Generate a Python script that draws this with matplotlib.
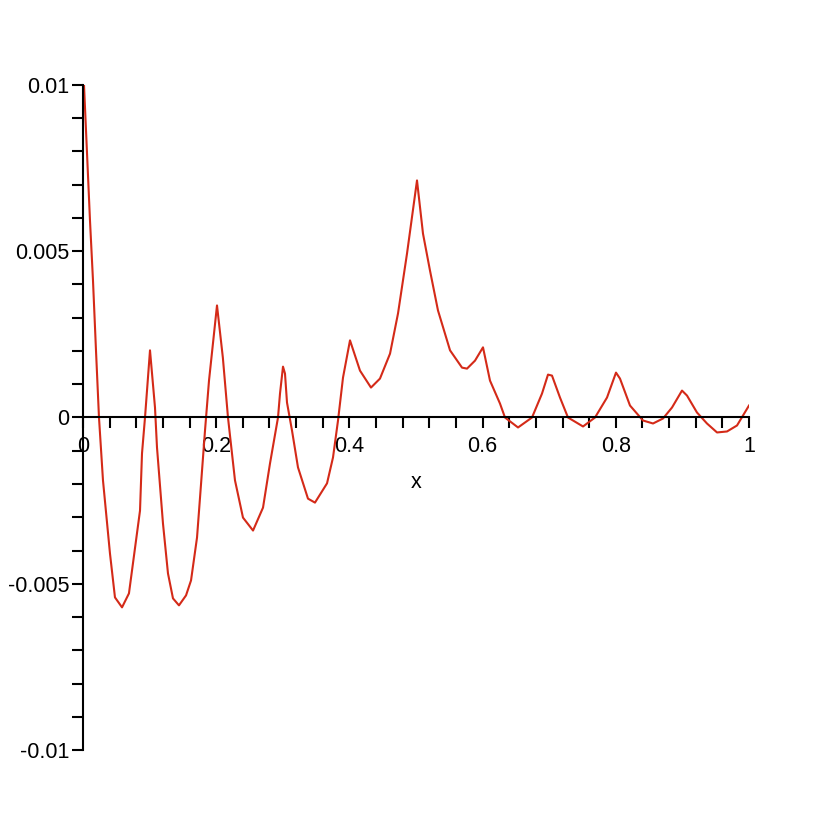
import matplotlib
matplotlib.use("Agg")
import matplotlib.pyplot as plt
import numpy as np

x_vals = [0.0015, 0.0075, 0.0105, 0.015, 0.0195, 0.024, 0.030, 0.0405, 0.048, 0.0586,
          0.069, 0.0736, 0.0856, 0.0886, 0.0931, 0.1006, 0.1081, 0.1111, 0.1201, 0.1276,
          0.1351, 0.1441, 0.1547, 0.1622, 0.1712, 0.1757, 0.1832, 0.1892, 0.2012, 0.210,
          0.2177, 0.2282, 0.2402, 0.2553, 0.2703, 0.2808, 0.2928, 0.2958, 0.3003, 0.3033,
          0.3063, 0.3138, 0.3228, 0.3378, 0.3483, 0.3664, 0.3754, 0.3829, 0.3904, 0.4009,
          0.4159, 0.4324, 0.4459, 0.4610, 0.4730, 0.4865, 0.5015, 0.5105, 0.5210, 0.5330,
          0.5511, 0.5691, 0.5766, 0.5886, 0.6006, 0.6111, 0.6261, 0.6336, 0.6532, 0.6742,
          0.6892, 0.6982, 0.7042, 0.7162, 0.7282, 0.7508, 0.7688, 0.7868, 0.8003, 0.8063,
          0.8213, 0.8408, 0.8559, 0.8709, 0.8844, 0.8994, 0.9069, 0.9219, 0.9369, 0.9520,
          0.9670, 0.9820, 1.0]
y_vals = [0.0100, 0.00728, 0.00592, 0.00412, 0.00202, 0.0, -0.00189, -0.00409, -0.00541, -0.00571,
          -0.00529, -0.0046, -0.0028, -0.00108, 0.0, 0.00202, 0.0003, -0.0009, -0.00319, -0.00469,
          -0.00544, -0.00565, -0.00535, -0.0049, -0.00361, -0.00241, -0.00039, 0.00111, 0.00337, 0.0018,
          0.0, -0.00189, -0.00301, -0.0034, -0.00271, -0.00138, 0.0, 0.00072, 0.00153, 0.00132,
          0.00045, -0.00039, -0.0015, -0.00244, -0.00256, -0.00198, -0.0012, -0.00009, 0.0012, 0.00232,
          0.00141, 0.0009, 0.00117, 0.00192, 0.00313, 0.00493, 0.00713, 0.00553, 0.00442, 0.00322,
          0.00202, 0.0015, 0.00147, 0.00171, 0.00211, 0.00111, 0.00042, 0.0, -0.0003, 0.0,
          0.00072, 0.00129, 0.00126, 0.0006, 0.0, -0.00027, 0.0, 0.0006, 0.00135, 0.00117,
          0.00036, -0.00009, -0.00018, -0.00003, 0.0003, 0.00081, 0.00066, 0.00015, -0.00018, -0.00045,
          -0.00042, -0.00024, 0.00036]

x_tick_pos = [0.04 * i for i in range(26)]
x_label_pos = [0, 0.2, 0.4, 0.6, 0.8, 1.0]
x_label_txt = ["0", "0.2", "0.4", "0.6", "0.8", "1"]
y_minor_pos = [0.001 * i for i in range(-10, 11)]
y_label_pos = [-0.01, -0.005, 0, 0.005, 0.01]
y_label_txt = ["-0.01", "-0.005", "0", "0.005", "0.01"]

plt.rcParams['font.family'] = ['Liberation Sans', 'DejaVu Sans']

fig = plt.figure(figsize=(8.34, 8.34), dpi=100)
ax = fig.add_axes([83/834, 84/834, 666/834, 665/834])
ax.plot(x_vals, y_vals, color='#d42a18', lw=1.5, solid_joinstyle='round')
ax.set_xlim(0, 1)
ax.set_ylim(-0.01, 0.01)

for s in ['top', 'right']:
    ax.spines[s].set_visible(False)
ax.spines['bottom'].set_position(('data', 0))
ax.spines['left'].set_position(('data', 0))
for s in ['bottom', 'left']:
    ax.spines[s].set_linewidth(1.5)

ax.set_xticks(x_tick_pos, minor=True)
ax.set_xticks(x_label_pos)
ax.set_xticklabels(x_label_txt)
ax.set_yticks(y_minor_pos, minor=True)
ax.set_yticks(y_label_pos)
ax.set_yticklabels(y_label_txt)
ax.tick_params(which='both', direction='out', length=8, width=1.5, labelsize=15.5, color='black')
ax.tick_params(axis='x', pad=5)
ax.tick_params(axis='y', pad=2)

ax.text(0.5, -0.00195, "x", ha='center', va='center', fontsize=15.5)

fig.savefig("out.png", dpi=100)
